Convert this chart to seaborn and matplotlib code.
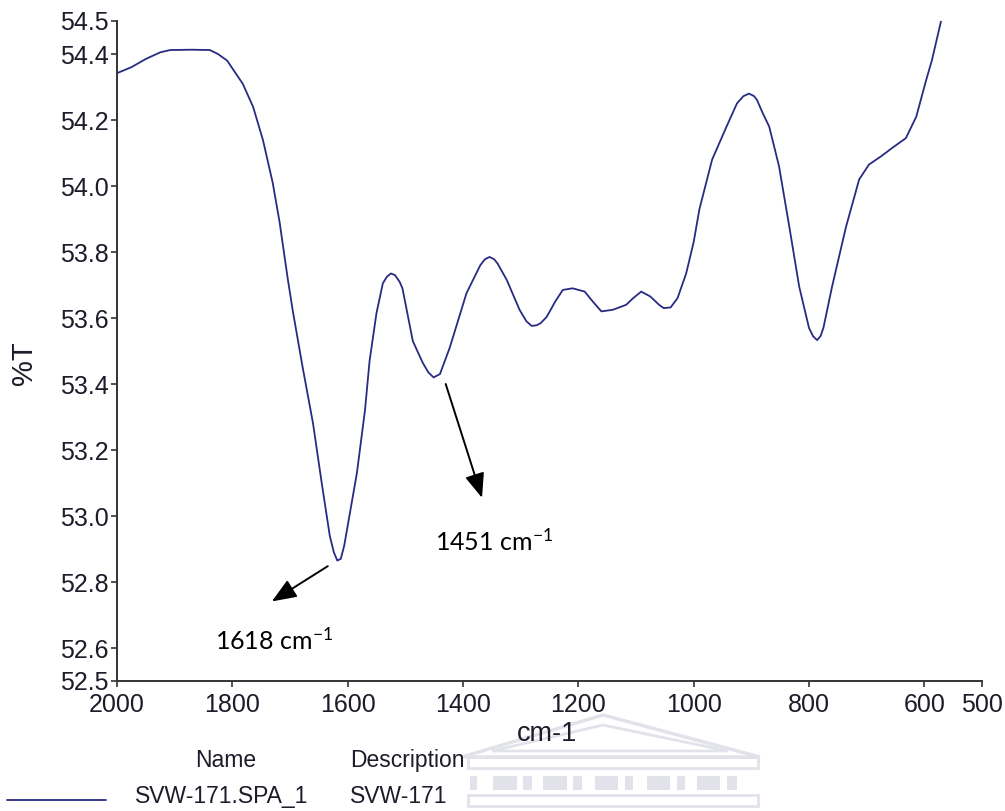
import matplotlib
matplotlib.use("Agg")
import matplotlib.pyplot as plt
from matplotlib.lines import Line2D
from matplotlib.patches import Polygon, Rectangle
import seaborn as sns
import pandas as pd

# FTIR transmittance spectrum of sample SVW-171
wavenumber = [2000, 1975, 1950, 1925, 1908, 1870, 1839, 1825, 1809, 1782, 1764,
              1747, 1730, 1718, 1704, 1695, 1678, 1660, 1645, 1631, 1624, 1618,
              1612, 1606, 1600, 1584, 1570, 1562, 1550, 1539, 1532, 1525, 1518,
              1510, 1505, 1496, 1487, 1470, 1460, 1451, 1440, 1423, 1394, 1370,
              1362, 1354, 1346, 1340, 1324, 1302, 1290, 1281, 1272, 1265, 1255,
              1240, 1227, 1210, 1189, 1175, 1160, 1140, 1117, 1105, 1091, 1075,
              1060, 1052, 1040, 1028, 1013, 1000, 990, 968, 943, 925, 914, 904,
              895, 890, 880, 869, 852, 834, 817, 800, 793, 786, 780, 775, 760,
              736, 713, 696, 675, 656, 632, 614, 597, 587, 571]
transmittance = [54.342, 54.36, 54.385, 54.405, 54.412, 54.413, 54.412, 54.40,
                 54.38, 54.31, 54.24, 54.14, 54.01, 53.89, 53.72, 53.62, 53.45,
                 53.28, 53.10, 52.94, 52.89, 52.865, 52.87, 52.91, 52.97, 53.13,
                 53.32, 53.47, 53.615, 53.705, 53.725, 53.735, 53.73, 53.71,
                 53.69, 53.61, 53.53, 53.465, 53.435, 53.42, 53.43, 53.51,
                 53.675, 53.76, 53.778, 53.785, 53.778, 53.765, 53.715, 53.625,
                 53.59, 53.576, 53.578, 53.585, 53.603, 53.65, 53.685, 53.69,
                 53.68, 53.65, 53.62, 53.625, 53.64, 53.66, 53.68, 53.665,
                 53.64, 53.63, 53.632, 53.66, 53.735, 53.83, 53.93, 54.08,
                 54.18, 54.25, 54.272, 54.28, 54.272, 54.26, 54.22, 54.18,
                 54.06, 53.875, 53.695, 53.57, 53.545, 53.533, 53.545, 53.57,
                 53.695, 53.875, 54.02, 54.065, 54.09, 54.115, 54.145, 54.21,
                 54.32, 54.38, 54.50]

y_ticks = [52.5, 52.6, 52.8, 53.0, 53.2, 53.4, 53.6, 53.8, 54.0, 54.2, 54.4, 54.5]
x_ticks = [2000, 1800, 1600, 1400, 1200, 1000, 800, 600, 500]

# labelled absorption bands: label, arrow start, arrow tip, text anchor
band_labels = ["1618 cm$^{\\mathregular{-1}}$", "1451 cm$^{\\mathregular{-1}}$"]
band_arrow_start = [(1634.5, 52.848), (1430.0, 53.400)]
band_arrow_tip = [(1731.5, 52.741), (1367.0, 53.055)]
band_text_pos = [(1830.0, 52.594), (1449.0, 52.894)]

spectrum_name = "SVW-171.SPA_1"
spectrum_desc = "SVW-171"

df = pd.DataFrame({"wavenumber": wavenumber, "T": transmittance})

sns.set_theme(style="white")
plt.rcParams["font.family"] = ["Liberation Sans", "DejaVu Sans"]
plt.rcParams["mathtext.fontset"] = "custom"
plt.rcParams["mathtext.rm"] = "Lato"
plt.rcParams["mathtext.it"] = "Lato:italic"

W, H = 1005, 811
fig = plt.figure(figsize=(W / 100, H / 100), dpi=100)
fig.patch.set_facecolor("white")


def fx(px):
    return px / W


def fy(py):
    return 1 - py / H


ax = fig.add_axes([fx(117), fy(681), fx(982) - fx(117), fy(21) - fy(681)])
ax.patch.set_alpha(0)

line_color = "#282B82"
sns.lineplot(data=df, x="wavenumber", y="T", ax=ax, color=line_color,
             linewidth=1.3, estimator=None)

ax.set_xlim(2000, 500)
ax.set_ylim(52.5, 54.5)
ax.set_xticks(x_ticks)
ax.set_yticks(y_ticks)
ax.set_xticklabels([str(t) for t in x_ticks])
ax.set_yticklabels([f"{t:.1f}" for t in y_ticks])
ax.set_xlabel("")
ax.set_ylabel("")

for lab in ax.get_xticklabels() + ax.get_yticklabels():
    lab.set_fontsize(18)
    lab.set_color("#1c1c2a")

for side in ("top", "right"):
    ax.spines[side].set_visible(False)
for side in ("left", "bottom"):
    ax.spines[side].set_color("#333333")
    ax.spines[side].set_linewidth(1.4)
ax.tick_params(axis="both", which="major", bottom=True, left=True,
               direction="out", length=4.5, width=1.2, color="#333333")
ax.tick_params(axis="x", pad=4.5)
ax.tick_params(axis="y", pad=1.5)

# band annotations
for label, start, tip, pos in zip(band_labels, band_arrow_start,
                                  band_arrow_tip, band_text_pos):
    ax.annotate("", xy=tip, xytext=start,
                arrowprops=dict(arrowstyle="-|>,head_length=0.75,head_width=0.3",
                                color="black", lw=1.4, mutation_scale=20,
                                shrinkA=0, shrinkB=0))
    ax.text(pos[0], pos[1], label, ha="left", va="baseline", fontsize=18,
            family=["Lato", "DejaVu Sans"], color="black")

# axis titles
fig.text(fx(24), fy(363), "%T", rotation=90, ha="center", va="center",
         fontsize=21, color="#1c1c2a")
fig.text(fx(547), fy(741), "cm-1", ha="center", va="baseline",
         fontsize=19.5, color="#1c1c2a")

# faint building emblem behind the spectrum table
wm = "#e2e3ea"
fig.patches.append(Polygon([(fx(462), fy(757)), (fx(603), fy(715)),
                            (fx(760), fy(757))], closed=True, fill=False,
                           edgecolor=wm, lw=2.5, transform=fig.transFigure,
                           zorder=0))
fig.patches.append(Polygon([(fx(492), fy(751)), (fx(603), fy(725)),
                            (fx(728), fy(751))], closed=True, fill=False,
                           edgecolor=wm, lw=2, transform=fig.transFigure,
                           zorder=0))
fig.patches.append(Rectangle((fx(468), fy(768)), fx(290), fy(757) - fy(768),
                             fill=False, edgecolor=wm, lw=2,
                             transform=fig.transFigure, zorder=0))
blocks = [(470, 7), (493, 24), (523, 9), (543, 24), (573, 9), (595, 23),
          (625, 8), (647, 23), (677, 8), (697, 23), (727, 10)]
for bx, bw in blocks:
    fig.patches.append(Rectangle((fx(bx), fy(790)), fx(bw), fy(776) - fy(790),
                                 facecolor=wm, edgecolor="none",
                                 transform=fig.transFigure, zorder=0))
fig.patches.append(Rectangle((fx(468), fy(806)), fx(290), fy(795) - fy(806),
                             fill=False, edgecolor=wm, lw=2,
                             transform=fig.transFigure, zorder=0))

# spectrum table under the plot
fig.text(fx(195), fy(767), "Name", ha="left", va="baseline", fontsize=16.5,
         color="#1c1c2a")
fig.text(fx(350), fy(767), "Description", ha="left", va="baseline",
         fontsize=16.5, color="#1c1c2a")
fig.lines.append(Line2D([fx(7), fx(106)], [fy(800), fy(800)], color=line_color,
                        lw=1.3, transform=fig.transFigure))
fig.text(fx(135), fy(803), spectrum_name, ha="left", va="baseline",
         fontsize=16.5, color="#1c1c2a")
fig.text(fx(350), fy(803), spectrum_desc, ha="left", va="baseline",
         fontsize=16.5, color="#1c1c2a")

fig.savefig("out.png", dpi=100, facecolor="white")
